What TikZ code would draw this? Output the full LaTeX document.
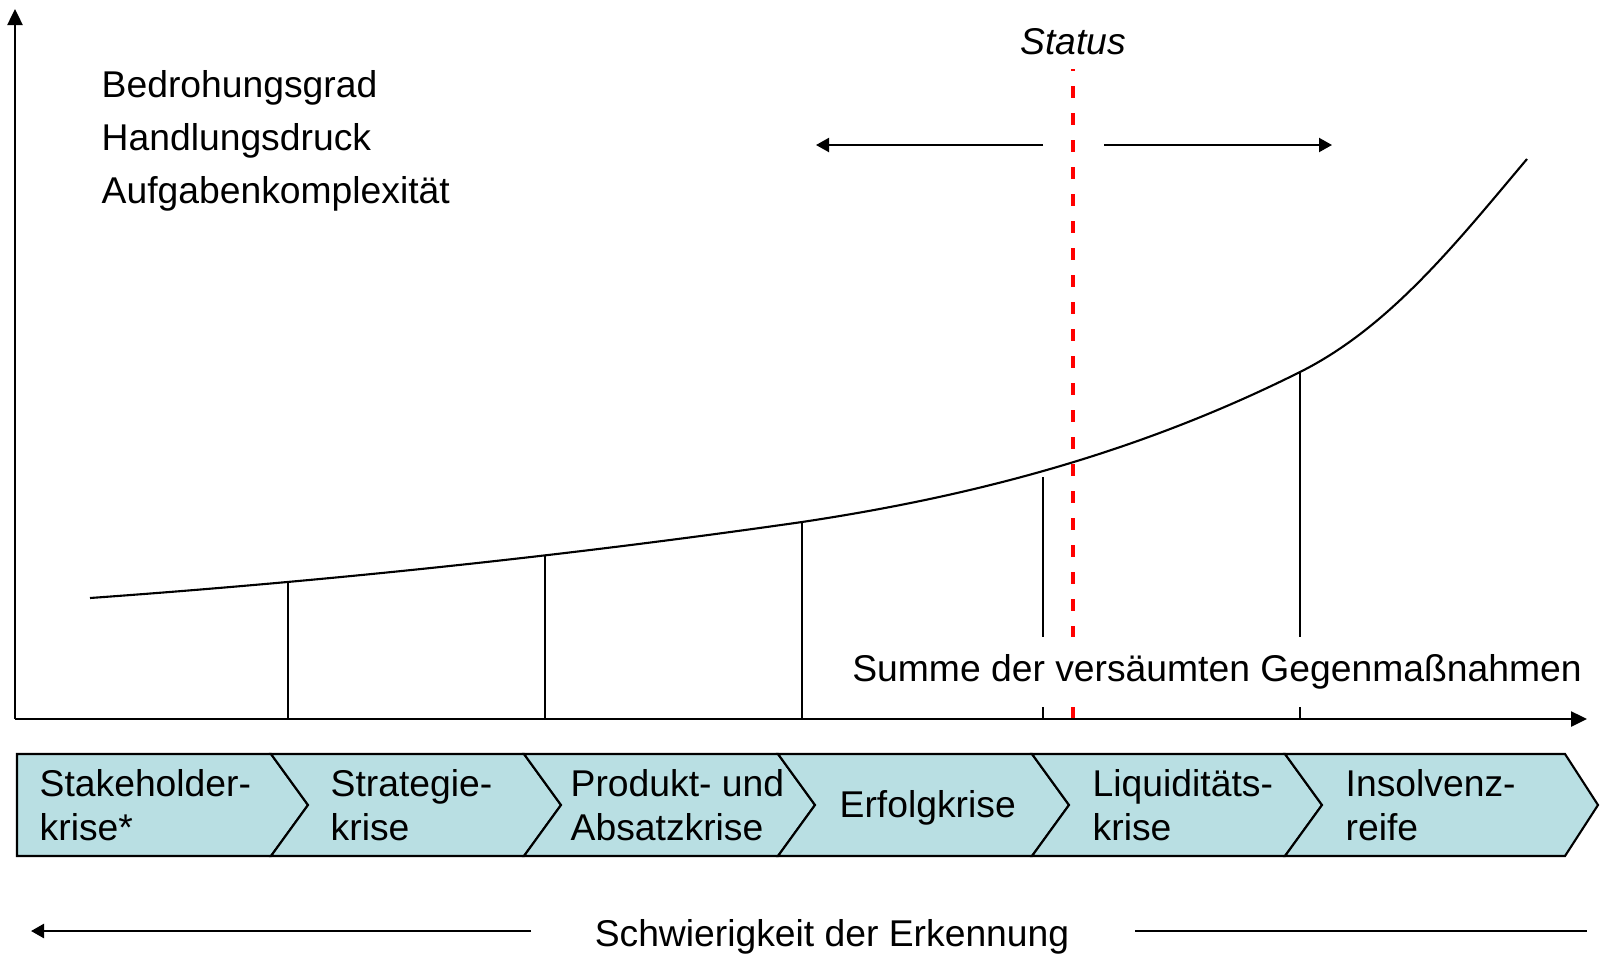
\documentclass[tikz,border=0pt]{standalone}
\usepackage{fontspec}
\setmainfont{Liberation Sans}
\usetikzlibrary{arrows.meta,positioning}
\definecolor{KriseBlue}{HTML}{B9DFE3}
\definecolor{KriseRed}{HTML}{FF0000}
\definecolor{KriseDark}{HTML}{000000}
\tikzset{
  phase/.style={draw=KriseDark,line width=0.6pt,fill=KriseBlue},
  phasetext/.style={anchor=west,align=left,inner sep=0pt,font=\fontsize{10.6}{12.5}\selectfont},
  axisline/.style={draw=KriseDark,line width=0.7pt,-{Triangle[length=0.16cm,width=0.15cm]}},
  dirarrow/.style={draw=KriseDark,line width=0.6pt,-{Triangle[length=0.13cm,width=0.14cm]}},
  marker/.style={draw=KriseDark,line width=0.45pt},
}

\begin{document}
\begin{tikzpicture}[x=0.01cm,y=-0.01cm,font=\fontsize{10.6}{12.7}\selectfont]
\useasboundingbox (0,0) rectangle (1600,954);

% Achsen
\coordinate (O) at (15,719);
\coordinate (ytop) at (15,9);
\coordinate (xend) at (1587,719);
\draw[axisline] (O)--(ytop);

\node[anchor=west,inner sep=0pt] (bedr) at (101,88) {Bedrohungsgrad};
\node[anchor=west,inner sep=0pt] (handl) at (101,141) {Handlungsdruck};
\node[anchor=west,inner sep=0pt] (aufg) at (101,194) {Aufgabenkomplexität};

% Kurve
\coordinate (c0) at (90,598);
\coordinate (c1) at (802,522);
\coordinate (c2) at (1300,372);
\coordinate (c3) at (1527,159);
\draw[draw=KriseDark,line width=0.6pt] (c0) .. controls (327,581) and (565,556) .. (c1)
  .. controls (968,497) and (1134,455) .. (c2)
  .. controls (1390,327) and (1457,242) .. (c3);
\coordinate (k1) at (288,583);
\coordinate (k2) at (545,556);
\coordinate (k3) at (802,522);
\coordinate (k4) at (1043,477);
\coordinate (k5) at (1300,372);
\foreach \k in {k1,k2,k3,k4,k5}
  \draw[marker] (\k)--(\k |- O);

% Status
\node (status) at (1073,42) {\itshape Status};
\coordinate (st) at (1073,69);
\coordinate (stb) at (1073,719);
\draw[draw=KriseRed,line width=1pt,dash pattern=on 0.12cm off 0.15cm] (stb)--(st);
\coordinate (la) at (1043,145);
\coordinate (lb) at (816,145);
\coordinate (ra) at (1104,145);
\coordinate (rb) at (1332,145);
\draw[dirarrow] (la)--(lb);
\draw[dirarrow] (ra)--(rb);

\node[fill=white,inner xsep=2pt,inner ysep=0.18cm] (summe) at (1217,672) {Summe der versäumten Gegenmaßnahmen};
\draw[axisline] (O)--(xend);

% Krisenphasen
\draw[phase] (17,754)--(271,754)--(308,805)--(271,856)--(17,856)--cycle;
\foreach \a/\b/\t in {271/524/37,524/778/37,778/1032/37,1032/1285/37,1285/1565/33}
  \draw[phase] (\a,754)--(\b,754)--({\b+\t},805)--(\b,856)--(\a,856)--({\a+37},805)--cycle;
\node[phasetext] (stake) at (39,805) {Stakeholder-\\krise*};
\node[phasetext] (strat) at (330,805) {Strategie-\\krise};
\node[phasetext] (prod) at (570,805) {Produkt- und\\Absatzkrise};
\node[phasetext] (erf) at (839,808) {Erfolgkrise};
\node[phasetext] (liq) at (1092,805) {Liquiditäts-\\krise};
\node[phasetext] (insol) at (1345,805) {Insolvenz-\\reife};

% Erkennung
\node (schw) at (832,937) {Schwierigkeit der Erkennung};
\coordinate (sl1) at (531,931);
\coordinate (sl2) at (31,931);
\coordinate (sr1) at (1135,931);
\coordinate (sr2) at (1587,931);
\draw[dirarrow,line width=0.7pt] (sl1)--(sl2);
\draw[draw=KriseDark,line width=0.7pt] (sr1)--(sr2);
\end{tikzpicture}
\end{document}
